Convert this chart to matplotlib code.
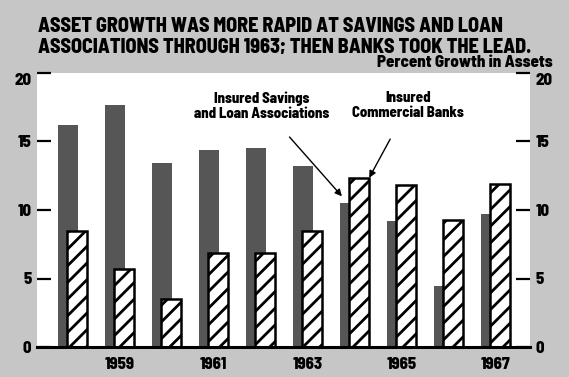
import matplotlib
matplotlib.use("Agg")
import matplotlib.pyplot as plt
import matplotlib.text as mtext
import matplotlib.transforms as mtransforms
import numpy as np
from matplotlib import font_manager
from matplotlib.font_manager import FontProperties
from matplotlib.textpath import TextPath

years = [1958, 1959, 1960, 1961, 1962, 1963, 1964, 1965, 1966, 1967]
savings_loan = [16.2, 17.7, 13.4, 14.4, 14.5, 13.2, 10.5, 9.2, 4.45, 9.7]
commercial_banks = [8.5, 5.7, 3.5, 6.85, 6.85, 8.5, 12.3, 11.8, 9.25, 11.9]
year_ticks = [1959, 1961, 1963, 1965, 1967]
y_ticks = [0, 5, 10, 15, 20]
TITLE1 = "ASSET GROWTH WAS MORE RAPID AT SAVINGS AND LOAN"
TITLE2 = "ASSOCIATIONS THROUGH 1963; THEN BANKS TOOK THE LEAD."

# pick a condensed bold family (static bold face) whose proportions best match
prefs = ['Roboto Condensed', 'Encode Sans Condensed', 'Fira Sans Extra Condensed',
         'Fira Sans Condensed', 'PT Sans Narrow', 'IBM Plex Sans Condensed',
         'Barlow Condensed', 'Barlow Semi Condensed', 'Asap Condensed',
         'Encode Sans Compressed', 'Pragati Narrow', 'Archivo Narrow']
target_ratio = 495 / 14.5
best, best_err = 'DejaVu Sans', 1e9
for p in prefs:
    ok = [f for f in font_manager.fontManager.ttflist
          if f.name == p and f.weight in (700, 'bold') and 'talic' not in f.fname
          and '[' not in f.fname]
    if not ok:
        continue
    try:
        fp = FontProperties(fname=ok[0].fname)
        wd = TextPath((0, 0), TITLE2, size=100, prop=fp).get_extents().width
        ch = TextPath((0, 0), "H", size=100, prop=fp).get_extents().height
        err = abs(np.log((wd / ch) / target_ratio))
    except Exception:
        continue
    if err < best_err:
        best, best_err = p, err
FONT = best
WEIGHT = 800
plt.rcParams['font.family'] = [FONT, 'DejaVu Sans']
plt.rcParams['font.weight'] = WEIGHT
plt.rcParams['hatch.linewidth'] = 2.0

BG = "#c6c6c6"
DARK = "#565656"

fig = plt.figure(figsize=(5.69, 3.77), dpi=100, facecolor=BG)
ax = fig.add_axes([37/569, 30/377, 493/569, 274/377])
ax.set_facecolor("white")
renderer = fig.canvas.get_renderer()


def text_width(t):
    return mtext.Text.get_window_extent(t, renderer).width


def fit(t, target_px):
    t.set_fontsize(t.get_fontsize() * target_px / text_width(t))


x = np.array(years, dtype=float)
w = 0.43
off = 0.095
ax.bar(x - off, savings_loan, width=w, color=DARK, zorder=2)
ax.bar(x + off, commercial_banks, width=w, color="white", edgecolor="black",
       hatch="//", linewidth=1.8, zorder=3)

ax.set_xlim(1957.245, 1967.73)
ax.set_ylim(0, 20)
ax.set_xticks(year_ticks)
ax.set_xticklabels([str(y) for y in year_ticks], fontsize=12, fontweight=WEIGHT)
ax.tick_params(axis='x', length=0, pad=7)
ax.set_yticks(y_ticks)
ax.set_yticklabels([str(v) for v in y_ticks], fontsize=12.5, fontweight=WEIGHT)
ax.tick_params(axis='y', direction='in', length=10, width=1.6, pad=4,
               left=True, right=True, labelleft=True, labelright=True)
for s in ['left', 'right', 'top']:
    ax.spines[s].set_visible(False)
ax.spines['bottom'].set_linewidth(2.2)
ax.spines['bottom'].set_zorder(5)

# fit tick label sizes
xt = ax.get_xticklabels()
fs_x = 12 * 30 / text_width(xt[0])
yt = ax.get_yticklabels()
fs_y = 12.5 * 17 / text_width(yt[-1])
ax.tick_params(axis='y', labelsize=fs_y)
ax.tick_params(axis='x', labelsize=fs_x)
for lab in ax.get_xticklabels() + ax.get_yticklabels():
    lab.set_fontweight(WEIGHT)
# the top "20" labels sit just below their ticks in the original
shift = mtransforms.ScaledTranslation(0, -6/100, fig.dpi_scale_trans)
top_tick = ax.yaxis.get_major_ticks()[-1]
for lab in (top_tick.label1, top_tick.label2):
    lab.set_fontweight(WEIGHT)
    lab.set_transform(lab.get_transform() + shift)

# annotations
i64 = years.index(1964)
a1 = ax.annotate("Insured Savings\nand Loan Associations",
                 xy=(years[i64] - off - w/2 + 0.04, savings_loan[i64] + 0.5),
                 xytext=(1962.03, 17.6), ha='center', va='center',
                 fontsize=11, fontweight=WEIGHT, linespacing=1.1,
                 arrowprops=dict(arrowstyle='-|>', color='black', lw=1.0,
                                 mutation_scale=10, shrinkA=13, shrinkB=0))
fit(a1, 135)
a2 = ax.annotate("Insured\nCommercial Banks",
                 xy=(years[i64] + off + w/2, commercial_banks[i64] + 0.05),
                 xytext=(1965.14, 17.6), ha='center', va='center',
                 fontsize=11, fontweight=WEIGHT, linespacing=1.1,
                 arrowprops=dict(arrowstyle='-|>', color='black', lw=1.0,
                                 mutation_scale=10, shrinkA=13, shrinkB=0))
fit(a2, 112)

t2 = fig.text(38/569, 1 - 52.7/377, TITLE2, ha='left', va='baseline',
              fontsize=15, fontweight=WEIGHT)
fit(t2, 494)
t1 = fig.text(38/569, 1 - 32.3/377, TITLE1, ha='left', va='baseline',
              fontsize=t2.get_fontsize(), fontweight=WEIGHT)
sub = fig.text(553/569, 1 - 67/377, "Percent Growth in Assets", ha='right', va='baseline',
               fontsize=11, fontweight=WEIGHT)
fit(sub, 176)

fig.savefig("out.png", dpi=100, facecolor=BG)
